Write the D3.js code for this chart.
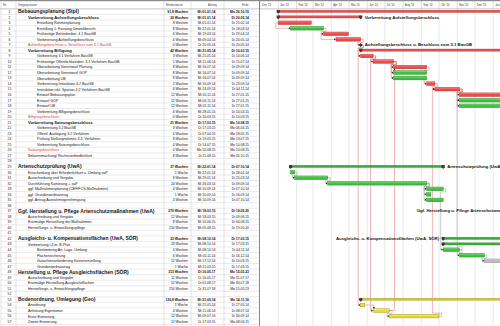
<!DOCTYPE html>
<html><head><meta charset="utf-8">
<script src="https://cdn.jsdelivr.net/npm/d3@7"></script>
<style>
body{margin:0;background:#fff}
svg{display:block}
text{font-family:"Liberation Sans",Arial,sans-serif}
</style>
</head><body>
<svg id="c" width="500" height="326"></svg>
<script>
// ---------- data ----------
const names = [
"Bebauungsplanung (Stpl)","Vorbereitung Aufstellungsbeschluss","Erstellung Rahmenplanung","Erstellung 1. Fassung Umweltbericht",
"Frühzeitige Behördenbet. 4.1 BauGB","Vorbereitung Aufstellungsbeschluss","Aufstellungsbeschluss u. Beschluss zum 3.1 BauGB",
"Vorbereitung Billigung","Vorbereitung 3.1 Verfahren BauGB","Frühzeitige Öffentlichkeitsbet. 3.1 Verfahren BauGB",
"Überarbeitung Vorentwurf Planung","Überarbeitung Vorentwurf GOP","Überarbeitung UB","Vorbereitung Instruktion 4.2 BauGB",
"Instruktion inkl. Spartan 4.2 Verfahren BauGB","Entwurf Bebauungsplan","Entwurf GOP","Entwurf UB",
"Vorbereitung Billigungsbeschluss","Billigungsbeschluss","Vorbereitung Satzungsbeschluss","Vorbereitung 3.2 BauGB",
"Öffentl. Auslegung 3.2 Verfahren","Prüfung Stellungnahmen 3.2. Verfahren","Vorbereitung Satzungsbeschluss","Satzungsbeschluss",
"Bekanntmachung/ Rechtsverbindlichkeit","",
"Artenschutzprüfung (UwA)","Entscheidung über Erforderlichkeit u. Umfang saP","Ausschreibung und Vergabe",
"Durchführung Kartierung + saP","ggf. Maßnahmenplanung (CEF/FCS-Maßnahmen)","ggf. Grunderwerbsantrag",
"ggf. Antrag Ausnahmegenehmigung","",
"Ggf. Herstellung u. Pflege Artenschutzmaßnahmen (UwA)","Ausschreibung und Vergabe","Erstmalige Herstellung der Maßnahmen",
"Herstellungs- u. Entwicklungspflege","",
"Ausgleichs- u. Kompensationsflächen (UwA, SÖR)","Vorbereitung i.Z.m. B-Plan","Bestimmung Art, Lage, Umfang",
"Flächensicherung","Gutachtenanforderung Kostenerstellung","Grunderwerbsantrag",
"Herstellung u. Pflege Ausgleichsflächen (SÖR)","Ausschreibung und Vergabe","Erstmalige Herstellung Ausgleichsflächen",
"Herstellungs- u. Entwicklungspflege","",
"Bodenordnung, Umlegung (Geo)","Anordnung","Anhörung Eigentümer","Erste Erörterung","Zweite Erörterung"
];
// H1 bold big summary, H2 bold summary, S2 plain summary, T2/T3 tasks, M2 milestone, E empty
const kinds = [
"H1","H2","T3","T3","T3","T3","M2","H2","T3","T3","T3","T3","T3","T3","T3","T3","T3","T3","T3","M2",
"H2","T3","T3","T3","T3","M2","T2","E",
"H1","T2","T2","T2","T2","T2","T2","E",
"H1","T2","T2","T2","E",
"H1","S2","T3","T3","T3","T3",
"H1","T2","T2","T2","E",
"H1","T2","T2","T2","T2"
];
const groups = [
"r","r","r","g","r","r","r","r","r","r","r","g","g","r","r","r","g","g","r","r",
"r","r","r","r","r","r","r","",
"g","g","g","g","g","g","g","",
"g","g","g","g","",
"g","g","g","g","x","x",
"g","g","g","g","",
"y","y","y","y","y"
];
const durations = [
"91,8 Wochen","20 Wochen","8 Wochen","8 Wochen","6 Wochen","6 Wochen","0 Wochen","42 Wochen","3 Wochen","5 Wochen",
"8 Wochen","8 Wochen","8 Wochen","2 Wochen","6 Wochen","12 Wochen","12 Wochen","12 Wochen","6 Wochen","0 Wochen",
"21 Wochen","3 Wochen","6 Wochen","8 Wochen","4 Wochen","0 Wochen","8 Wochen","",
"37 Wochen","1 Woche","8 Wochen","24 Wochen","4 Wochen","1 Woche","4 Wochen","",
"270 Wochen","12 Wochen","8 Wochen","250 Wochen","",
"23 Wochen","23 Wochen","4 Wochen","6 Wochen","12 Wochen","1 Woche",
"313 Wochen","11 Wochen","52 Wochen","250 Wochen","",
"126,8 Wochen","1 Woche","4 Wochen","12 Wochen","12 Wochen"
];
const starts = [
"Mi 01.01.14","Mi 01.01.14","Mi 01.01.14","Mi 22.01.14","Mi 19.03.14","Mi 09.04.14","Di 20.05.14","Mi 21.05.14","Mi 21.05.14","Mi 11.06.14",
"Mi 16.07.14","Mi 16.07.14","Mi 16.07.14","Mi 10.09.14","Mi 24.09.14","Mi 05.11.14","Mi 05.11.14","Mi 05.11.14","Mi 28.01.15","Di 10.03.15",
"Di 17.03.15","Di 17.03.15","Di 07.04.15","Di 19.05.15","Di 14.07.15","Mo 10.08.15","Di 11.08.15","",
"Mi 22.01.14","Mi 22.01.14","Mi 29.01.14","Mi 26.03.14","Mi 10.09.14","Mi 10.09.14","Mi 10.09.14","",
"Mi 18.03.15","Mi 18.03.15","Mi 10.06.15","Mi 05.08.15","",
"Mi 08.10.14","Mi 08.10.14","Mi 08.10.14","Mi 05.11.14","Mi 17.12.14","Mi 11.03.15",
"Di 16.05.17","Di 16.05.17","Di 01.08.17","Di 31.07.18","",
"Mi 21.05.14","Mi 21.05.14","Mi 11.06.14","Mi 09.07.14","Di 17.03.15"
];
const ends = [
"Mo 26.10.15","Di 20.05.14","Di 25.02.14","Di 18.03.14","Di 29.04.14","Di 20.05.14","Di 20.05.14","Di 10.03.15","Di 10.06.14","Di 15.07.14",
"Di 09.09.14","Di 09.09.14","Di 09.09.14","Di 23.09.14","Di 04.11.14","Di 27.01.15","Di 27.01.15","Di 27.01.15","Di 10.03.15","Di 10.03.15",
"Mo 10.08.15","Mo 06.04.15","Mo 18.05.15","Mo 13.07.15","Mo 10.08.15","Mo 10.08.15","Mo 05.10.15","",
"Di 07.10.14","Di 28.01.14","Di 25.03.14","Di 09.09.14","Di 07.10.14","Di 16.09.14","Di 07.10.14","",
"Di 19.05.20","Di 09.06.15","Di 04.08.15","Di 19.05.20","",
"Di 17.03.15","Di 17.03.15","Di 04.11.14","Di 16.12.14","Di 10.03.15","Di 17.03.15",
"Mo 15.05.23","Mo 31.07.17","Mo 30.07.18","Mo 15.05.23","",
"Mo 14.11.16","Di 27.05.14","Di 08.07.14","Di 30.09.14","Mo 08.06.15"
];
const monthLabels = ["Dez '13","Jan '14","Feb '14","Mrz '14","Apr '14","Mai '14","Jun '14","Jul '14","Aug '14","Sep '14","Okt '14","Nov '14","Dez '14","Jan '15"];
const headers = ["Nr.","Vorgangsname","Mindestdauer","Anfang","Ende"];
// bar labels in the chart
const labelRows = [2,7,29,37,42];
const labelSides = ["r","r","r","l","l"];
// dependencies (Nr.)
const linkFrom = [3,5,4,6,7,9,10,10,10,11,14,15,15,15,30,31,32,32,32,33,44,45,54,55,7,9,55,56,44];
const linkTo   = [4,6,5,7,9,10,11,12,13,14,15,16,17,18,31,32,33,34,35,44,45,46,55,56,54,55,11,15,17];
const linkTypes= ["SS","SS","FS","FS","FS","FS","FS","FS","FS","FS","FS","FS","FS","FS","FS","FS","FS","FS","FS","FS","FS","FS","FS","FS","FS","FS","FS","FS","FS"];

// ---------- layout ----------
const W = 500, H = 326;
const svg = d3.select("#c");
const rowH = 5.536, top0 = 8.9;
const cy = i => top0 + (i + 0.5) * rowH;
const colX = [1, 16, 164, 191, 224, 259.5];
const chartX0 = 259.5;
const parse = d3.timeParse("%d.%m.%y");
const pd = s => parse(s.slice(3));
const x = d3.scaleTime().domain([new Date(2013,11,1), new Date(2015,0,1)]).range([260, 493.2]);
const day = d => d3.timeDay.offset(d, 1);

const fills = {r:"#ee4848", g:"#3cc23c", y:"#e8dc34", x:"#bcbcbc"};
const strokes = {r:"#a82424", g:"#1a7a1a", y:"#968812", x:"#7c7c7c"};
const sumFills = {r:"#e65050", g:"#3aae3a", y:"#d4c834", x:"#aaa"};

// ---------- table ----------
const tbl = svg.append("g");
tbl.append("rect").attr("x",0).attr("y",0).attr("width",W).attr("height",1.2).attr("fill","#8a8a8a");
tbl.append("line").attr("x1",0).attr("x2",W).attr("y1",top0).attr("y2",top0).attr("stroke","#9a9a9a").attr("stroke-width",0.6);
names.forEach((n,i)=>{
  tbl.append("line").attr("x1",colX[0]).attr("x2",chartX0)
    .attr("y1",top0+(i+1)*rowH).attr("y2",top0+(i+1)*rowH)
    .attr("stroke","#d6d6d6").attr("stroke-width",0.5);
});
colX.forEach((cx,k)=>{
  tbl.append("line").attr("x1",cx).attr("x2",cx).attr("y1",1).attr("y2",H)
    .attr("stroke", k===colX.length-1 ? "#7a7a7a" : "#c4c4c4").attr("stroke-width", k===colX.length-1 ? 0.9 : 0.5);
});
const hdrX = [3, 18, 166, 208, 242];
headers.forEach((h,k)=>{
  tbl.append("text").attr("x",hdrX[k]).attr("y",6.2).attr("font-size",2.8).attr("fill","#444").text(h);
});
svg.append("clipPath").attr("id","nameclip").append("rect").attr("x",16).attr("y",0).attr("width",148).attr("height",H);
svg.append("clipPath").attr("id","chartclip").append("rect").attr("x",chartX0+0.5).attr("y",0).attr("width",W-chartX0).attr("height",H);

const indent = {H1:18, H2:28, S2:28, T2:28, T3:37, M2:28};
const nameG = svg.append("g").attr("clip-path","url(#nameclip)");
names.forEach((n,i)=>{
  const k = kinds[i];
  tbl.append("text").attr("x",9.5).attr("y",cy(i)+1.3).attr("text-anchor","middle")
    .attr("font-size",3.4).attr("fill","#222").text(i+1);
  if (k==="E") return;
  const big = k==="H1";
  const bold = k==="H1"||k==="H2";
  nameG.append("text").attr("x",indent[k]).attr("y",cy(i)+(big?1.8:1.4))
    .attr("font-size", big?5:(bold?4.1:3.6))
    .attr("font-weight", bold?"bold":"normal")
    .attr("fill", k==="M2" ? "#e03a3a" : "#111")
    .text(n);
  const fw = bold ? "bold" : "normal";
  tbl.append("text").attr("x",188).attr("y",cy(i)+1.3).attr("text-anchor","end")
    .attr("font-size",3.4).attr("font-weight",fw).attr("fill","#111").text(durations[i]);
  tbl.append("text").attr("x",215.5).attr("y",cy(i)+1.3).attr("text-anchor","end")
    .attr("font-size",3.4).attr("font-weight",fw).attr("fill","#111").text(starts[i]);
  tbl.append("text").attr("x",249).attr("y",cy(i)+1.3).attr("text-anchor","end")
    .attr("font-size",3.4).attr("font-weight",fw).attr("fill","#111").text(ends[i]);
});

// ---------- chart ----------
const ch = svg.append("g").attr("clip-path","url(#chartclip)");
const months = d3.timeMonth.range(new Date(2013,11,1), new Date(2015,1,1));
months.forEach((m,k)=>{
  ch.append("line").attr("x1",x(m)).attr("x2",x(m)).attr("y1",1).attr("y2",top0)
    .attr("stroke","#b8b8b8").attr("stroke-width",0.5);
  if (k>0) ch.append("line").attr("x1",x(m)).attr("x2",x(m)).attr("y1",top0).attr("y2",H)
    .attr("stroke","#d2d2d2").attr("stroke-width",0.5);
  ch.append("text").attr("x",x(m)+2).attr("y",6.2).attr("font-size",2.7).attr("fill","#333").text(monthLabels[k]);
});

// links
const linkG = ch.append("g").attr("fill","none").attr("stroke-width",0.55);
const arrowG = ch.append("g");
linkFrom.forEach((f,k)=>{
  const a = f-1, b = linkTo[k]-1;
  const ya = cy(a), yb = cy(b);
  const xs = x(pd(starts[b]));
  const col = (groups[a]==="r"||groups[b]==="r") ? "#e47676" : "#a4a4a4";
  const dir = yb > ya ? 1 : -1;
  let p, arrow;
  if (linkTypes[k]==="SS") {
    const xa = x(pd(starts[a]));
    p = `M${xa},${ya}H${xa-2.5}V${yb}H${xs-0.8}`;
    arrow = [[xs,yb],[xs-1.8,yb-1.1],[xs-1.8,yb+1.1]];
  } else {
    const xe = x(day(pd(ends[a])));
    if (xs > xe + 3) {
      const ytip = yb - dir*1.9;
      p = `M${xe},${ya}H${xs+0.8}V${ytip}`;
      arrow = [[xs+0.8,ytip+dir*0.3],[xs-0.3,ytip-dir*1.6],[xs+1.9,ytip-dir*1.6]];
    } else {
      p = `M${xe},${ya}H${xe+2.5}V${ya+dir*rowH*0.55}H${xs-2.5}V${yb}H${xs-0.8}`;
      arrow = [[xs,yb],[xs-1.8,yb-1.1],[xs-1.8,yb+1.1]];
    }
  }
  linkG.append("path").attr("d",p).attr("stroke",col);
  arrowG.append("path").attr("d",d3.line()(arrow)+"Z").attr("fill","#222");
});

// bars
const barG = ch.append("g");
names.forEach((n,i)=>{
  const k = kinds[i];
  if (k==="E") return;
  const g = groups[i];
  const s = pd(starts[i]), e = day(pd(ends[i]));
  const y0 = cy(i);
  if (k==="M2") {
    const mx = x(e);
    barG.append("path").attr("d",`M${mx},${y0-2}L${mx+2},${y0}L${mx},${y0+2}L${mx-2},${y0}Z`).attr("fill","#333");
  } else if (k==="H1"||k==="H2"||k==="S2") {
    barG.append("rect").attr("x",x(s)).attr("y",y0-1.4).attr("width",Math.max(0,x(e)-x(s))).attr("height",2.2)
      .attr("fill",sumFills[g]).attr("stroke",strokes[g]).attr("stroke-width",0.3);
    [x(s), x(e)].forEach(px=>{
      barG.append("path").attr("d",`M${px-1.6},${y0-1.6}H${px+1.6}V${y0+0.6}L${px},${y0+2.2}L${px-1.6},${y0+0.6}Z`).attr("fill","#3a3a3a");
    });
  } else {
    barG.append("rect").attr("x",x(s)).attr("y",y0-1.8).attr("width",Math.max(0.5,x(e)-x(s))).attr("height",3.6)
      .attr("fill",fills[g]).attr("stroke",strokes[g]).attr("stroke-width",0.4);
    barG.append("rect").attr("x",x(s)+0.3).attr("y",y0-1.5).attr("width",Math.max(0,x(e)-x(s)-0.6)).attr("height",0.9)
      .attr("fill","#fff").attr("opacity",0.3);
  }
});

// bar labels
labelRows.forEach((r,k)=>{
  const i = r-1;
  const s = pd(starts[i]), e = day(pd(ends[i]));
  const right = labelSides[k]==="r";
  ch.append("text").attr("x", right ? x(e)+4 : x(s)-4).attr("y",cy(i)+1.4)
    .attr("text-anchor", right ? "start" : "end")
    .attr("font-size",4.3).attr("font-weight","bold").attr("fill","#111").text(names[i]);
});
</script>
</body></html>
